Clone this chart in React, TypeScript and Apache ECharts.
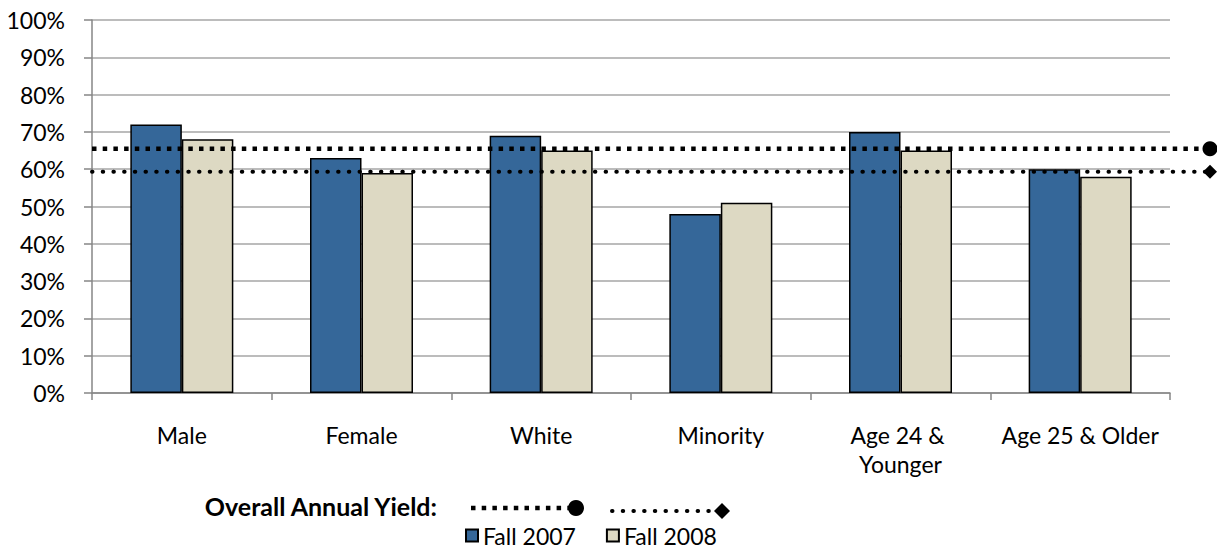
import React, { useEffect, useRef } from "react";
import * as echarts from "echarts";

const categories = ["Male", "Female", "White", "Minority", "Age 24 & Younger", "Age 25 & Older"];
const fall2007 = [72, 63, 69, 48, 70, 60];
const fall2008 = [68, 59, 65, 51, 65, 58];
const overallYield2007 = 65.5;
const overallYield2008 = 59.3;
const seriesNames = ["Fall 2007", "Fall 2008"];
const yMin = 0;
const yMax = 100;
const yStep = 10;

const FONT = "Lato";
const BLUE = "#356799";
const TAN = "#ddd9c3";
const GRID = "#a6a6a6";
const AXIS = "#868686";

export default function App() {
  const ref = useRef<HTMLDivElement>(null);
  useEffect(() => {
    if (!ref.current) return;
    const chart = echarts.init(ref.current, null, { renderer: "svg" });
    const option: any = {
      animation: false,
      textStyle: { fontFamily: FONT, color: "#000" },
      grid: [
        { left: 92, top: 20, width: 1078, height: 373 },
        { left: 92, top: 20, width: 1118, height: 373 },
      ],
      xAxis: [
        {
          type: "category",
          data: categories,
          gridIndex: 0,
          axisLine: { lineStyle: { color: AXIS, width: 1.5 } },
          axisTick: { show: true, length: 7, lineStyle: { color: AXIS, width: 1.5 } },
          axisLabel: {
            color: "#000",
            fontFamily: FONT,
            fontSize: 23,
            margin: 27,
            lineHeight: 29,
            interval: 0,
            width: 170,
            overflow: "break",
          },
        },
        { type: "value", gridIndex: 1, min: 0, max: 1, show: false },
      ],
      yAxis: [
        {
          type: "value",
          gridIndex: 0,
          min: yMin,
          max: yMax,
          interval: yStep,
          axisLine: { show: true, lineStyle: { color: AXIS, width: 1.5 } },
          axisTick: { show: true, length: 8, lineStyle: { color: AXIS, width: 1.5 } },
          splitLine: { lineStyle: { color: GRID, width: 1.5 } },
          axisLabel: {
            color: "#000",
            fontFamily: FONT,
            fontSize: 23,
            margin: 27,
            formatter: "{value}%",
          },
        },
        { type: "value", gridIndex: 1, min: yMin, max: yMax, show: false },
      ],
      legend: {
        data: seriesNames,
        left: 465,
        top: 524,
        padding: 0,
        itemWidth: 12,
        itemHeight: 12,
        itemGap: 30,
        icon: "rect",
        textStyle: { fontFamily: FONT, fontSize: 23, lineHeight: 20, color: "#000" },
      },
      series: [
        {
          name: seriesNames[0],
          type: "bar",
          xAxisIndex: 0,
          yAxisIndex: 0,
          data: fall2007,
          barWidth: 51.5,
          barGap: "0%",
          itemStyle: { color: BLUE, borderColor: "#000", borderWidth: 1.5 },
        },
        {
          name: seriesNames[1],
          type: "bar",
          xAxisIndex: 0,
          yAxisIndex: 0,
          data: fall2008,
          barWidth: 51.5,
          barGap: "0%",
          itemStyle: { color: TAN, borderColor: "#000", borderWidth: 1.5 },
        },
        {
          name: "Overall Annual Yield 2007",
          type: "line",
          xAxisIndex: 1,
          yAxisIndex: 1,
          z: 5,
          lineStyle: { color: "#000", width: 4.5, type: [4.5, 6.2], cap: "butt" },
          itemStyle: { color: "#000" },
          data: [
            { value: [0, overallYield2007], symbol: "none" },
            { value: [1, overallYield2007], symbol: "circle", symbolSize: 15 },
          ],
        },
        {
          name: "Overall Annual Yield 2008",
          type: "line",
          xAxisIndex: 1,
          yAxisIndex: 1,
          z: 5,
          lineStyle: { color: "#000", width: 4, type: [0.5, 10.2], cap: "round" },
          itemStyle: { color: "#000" },
          data: [
            { value: [0, overallYield2008], symbol: "none" },
            { value: [1, overallYield2008], symbol: "diamond", symbolSize: [14, 14] },
          ],
        },
      ],
      graphic: [
        {
          type: "text",
          x: 437,
          y: 506,
          style: {
            text: "Overall Annual Yield:",
            font: `bold 25px ${FONT}`,
            fill: "#000",
            align: "right",
            verticalAlign: "middle",
          },
        },
        {
          type: "line",
          shape: { x1: 471, y1: 508, x2: 570, y2: 508 },
          style: { stroke: "#000", lineWidth: 4.5, lineDash: [4.5, 6.2] },
        },
        { type: "circle", shape: { cx: 576, cy: 508, r: 8 }, style: { fill: "#000" } },
        {
          type: "line",
          shape: { x1: 612, y1: 511, x2: 716, y2: 511 },
          style: { stroke: "#000", lineWidth: 4, lineDash: [0.5, 10.2], lineCap: "round" },
        },
        {
          type: "polygon",
          shape: { points: [[722, 503], [730, 511], [722, 519], [714, 511]] },
          style: { fill: "#000" },
        },
      ],
    };
    chart.setOption(option);
    return () => chart.dispose();
  }, []);
  return (
    <div
      ref={ref}
      style={{ position: "absolute", left: 0, top: 0, width: 1217, height: 548, background: "#fff" }}
    />
  );
}
